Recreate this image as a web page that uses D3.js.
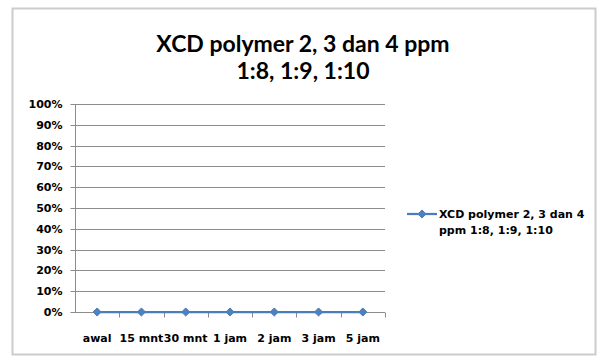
<!DOCTYPE html>
<html>
<head>
<meta charset="utf-8">
<script src="https://cdn.jsdelivr.net/npm/d3@7"></script>
<style>
  body { margin: 0; background: #fff; }
  text { font-family: "DejaVu Sans", sans-serif; fill: #000; }
  .title { font-family: Lato, sans-serif; }
</style>
</head>
<body>
<svg id="chart" width="601" height="358"></svg>
<script>
var categories = ["awal", "15 mnt", "30 mnt", "1 jam", "2 jam", "3 jam", "5 jam"];
var values = [0, 0, 0, 0, 0, 0, 0];
var yTicks = [0, 0.1, 0.2, 0.3, 0.4, 0.5, 0.6, 0.7, 0.8, 0.9, 1];
var titleLines = ["XCD polymer 2, 3 dan 4 ppm", "1:8, 1:9, 1:10"];
var seriesName = ["XCD polymer 2, 3 dan 4", "ppm 1:8, 1:9, 1:10"];

var svg = d3.select("#chart");
var blue = "#4a7ebb";
var gray = "#8c8c8c";

// chart frame
svg.append("rect")
    .attr("x", 12.5).attr("y", 8.5)
    .attr("width", 583).attr("height", 346)
    .attr("fill", "#fff")
    .attr("stroke", "#cccccc")
    .attr("stroke-width", 2);

// title
svg.selectAll(".title")
  .data(titleLines)
  .enter().append("text")
    .attr("class", "title")
    .attr("x", 303)
    .attr("y", function(d, i) { return 52 + i * 27; })
    .attr("text-anchor", "middle")
    .attr("font-size", 23)
    .attr("font-weight", "bold")
    .text(function(d) { return d; });

var x = d3.scaleBand().domain(categories).range([75, 385]);
var y = d3.scaleLinear().domain([0, 1]).range([312, 104]);

// gridlines
svg.append("g")
  .selectAll("line")
  .data(yTicks.slice(1))
  .enter().append("line")
    .attr("x1", 75).attr("x2", 385)
    .attr("y1", function(d) { return Math.round(y(d)) + 0.5; })
    .attr("y2", function(d) { return Math.round(y(d)) + 0.5; })
    .attr("stroke", gray);

// y axis
var yAxis = svg.append("g")
    .attr("transform", "translate(75.5,0)")
    .call(d3.axisLeft(y).tickValues(yTicks).tickFormat(d3.format(".0%")).tickSize(5).tickPadding(8));
yAxis.select(".domain").attr("stroke", gray).attr("d", "M0," + y(1) + "V" + y(0));
yAxis.selectAll(".tick").attr("transform", function(d) { return "translate(0," + (Math.round(y(d)) + 0.5) + ")"; });
yAxis.selectAll(".tick line").attr("stroke", gray);
yAxis.selectAll("text").attr("font-size", 11).attr("font-weight", "bold")
    .style("font-family", "'DejaVu Sans', sans-serif");

// x axis (ticks at category boundaries)
var xAxis = svg.append("g")
    .attr("transform", "translate(0," + (Math.round(y(0)) + 0.5) + ")");
xAxis.append("line")
    .attr("x1", 75).attr("x2", 385)
    .attr("stroke", gray);
xAxis.selectAll(".xt")
  .data(categories)
  .enter().append("line")
    .attr("class", "xt")
    .attr("x1", function(d) { return Math.round(x(d) + x.bandwidth()) + 0.5; })
    .attr("x2", function(d) { return Math.round(x(d) + x.bandwidth()) + 0.5; })
    .attr("y1", 0).attr("y2", 5)
    .attr("stroke", gray);
xAxis.selectAll(".xl")
  .data(categories)
  .enter().append("text")
    .attr("class", "xl")
    .attr("x", function(d) { return x(d) + x.bandwidth() / 2; })
    .attr("y", 29)
    .attr("text-anchor", "middle")
    .attr("font-size", 11)
    .attr("font-weight", "bold")
    .text(function(d) { return d; });

// series line
var line = d3.line()
    .x(function(d, i) { return x(categories[i]) + x.bandwidth() / 2; })
    .y(function(d) { return y(d); });

svg.append("path")
    .datum(values)
    .attr("d", line)
    .attr("fill", "none")
    .attr("stroke", blue)
    .attr("stroke-width", 2.25);

var diamond = d3.symbol().type(d3.symbolDiamond2).size(42);
svg.selectAll(".pt")
  .data(values)
  .enter().append("path")
    .attr("class", "pt")
    .attr("d", diamond)
    .attr("transform", function(d, i) {
      return "translate(" + (x(categories[i]) + x.bandwidth() / 2) + "," + y(d) + ")";
    })
    .attr("fill", "#4f81bd")
    .attr("stroke", blue);

// legend
var legend = svg.append("g").attr("transform", "translate(407,214)");
legend.append("line")
    .attr("x1", 0).attr("x2", 30)
    .attr("stroke", blue).attr("stroke-width", 2.25);
legend.append("path")
    .attr("d", diamond)
    .attr("transform", "translate(15,0)")
    .attr("fill", "#4f81bd")
    .attr("stroke", blue);
legend.selectAll("text")
  .data(seriesName)
  .enter().append("text")
    .attr("x", 32)
    .attr("y", function(d, i) { return 4 + i * 16; })
    .attr("font-size", 11)
    .attr("font-weight", "bold")
    .text(function(d) { return d; });
</script>
</body>
</html>
